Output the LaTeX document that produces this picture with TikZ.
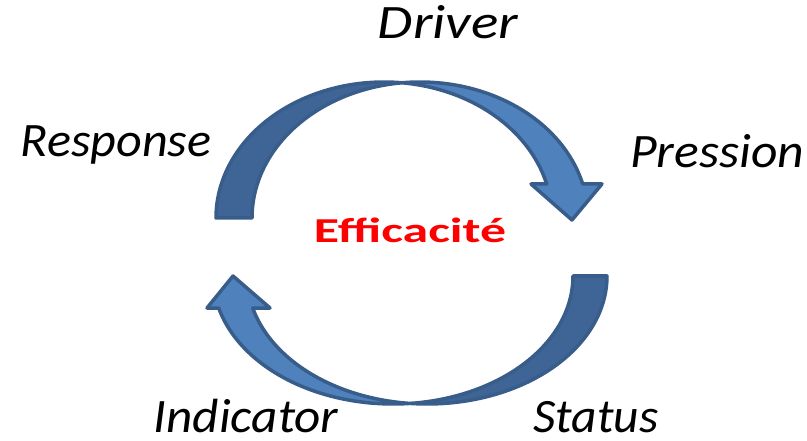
\documentclass[tikz,border=0pt]{standalone}
\usepackage{graphicx}
\usepackage{fontspec}
\setmainfont{Carlito}
\definecolor{bandback}{HTML}{3F6597}
\definecolor{bandfront}{HTML}{4F81BD}
\definecolor{bandline}{HTML}{385D8A}
\definecolor{centrered}{RGB}{255,0,0}
\newcommand{\widen}[2]{\scalebox{#1}[1]{#2}}
\begin{document}
\begin{tikzpicture}[x=1pt,y=-1pt,
  ribbon/.style={draw=bandline,line width=3.5pt,line join=round},
  backpart/.style={ribbon,fill=bandback},
  frontpart/.style={ribbon,fill=bandfront},
  steplabel/.style={font=\fontsize{48}{58}\selectfont\itshape,inner sep=0pt,anchor=base},
  centrelabel/.style={font=\fontsize{35}{42}\selectfont\bfseries,text=centrered,inner sep=0pt,anchor=base}]
\useasboundingbox (0,0) rectangle (807,441);

% upper curved arrow: twisted ribbon from the left foot to the head on the right
\path[backpart]
  plot[domain=180:276.15,samples=60] ({384+168*cos(\x)},{218+136*sin(\x)})
  -- plot[domain=263.85:180,samples=60] ({420+168*cos(\x)},{218+136*sin(\x)})
  -- cycle;
\path[frontpart]
  plot[domain=263.85:345.52,samples=60] ({420+168*cos(\x)},{218+136*sin(\x)})
  -- (602,184) -- (572,220) -- (531,184)
  -- plot[domain=345.52:276.15,samples=60] ({384+168*cos(\x)},{218+136*sin(\x)})
  -- cycle;

% lower curved arrow: from the right foot round to the head on the left
\path[backpart]
  plot[domain=0:95.42,samples=60] ({427+180*cos(\x)},{276+128*sin(\x)})
  -- plot[domain=84.58:0,samples=60] ({393+180*cos(\x)},{276+128*sin(\x)})
  -- cycle;
\path[frontpart]
  plot[domain=84.58:165.52,samples=60] ({393+180*cos(\x)},{276+128*sin(\x)})
  -- (207,308) -- (233,276) -- (270,308)
  -- plot[domain=165.52:95.42,samples=60] ({427+180*cos(\x)},{276+128*sin(\x)})
  -- cycle;

% labels
\node[steplabel] (driver) at (448,39) {\widen{1.19}{Driver}};
\node[steplabel] (pression) at (717,168) {\widen{1.075}{Pression}};
\node[steplabel] (status) at (596,432) {\widen{1.03}{Status}};
\node[steplabel] (indicator) at (246,432) {\widen{1.065}{Indicator}};
\node[steplabel] (response) at (116,157) {\widen{1.045}{Response}};
\node[centrelabel] (efficacite) at (410,243) {\widen{1.48}{Efficacité}};
\end{tikzpicture}
\end{document}
